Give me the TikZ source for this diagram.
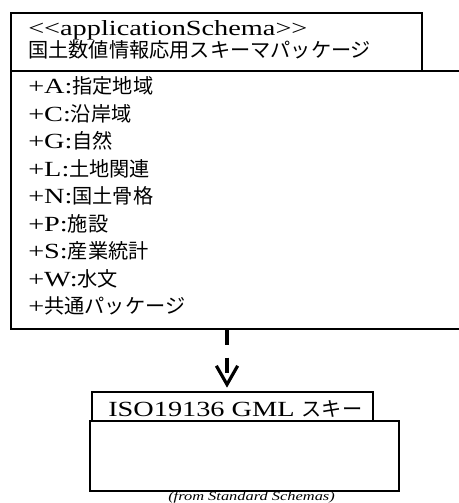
\documentclass[tikz,border=0pt]{standalone}
\usepackage{fontspec}
\setmainfont[FakeStretch=1.31]{Liberation Serif}
\newfontfamily\jp[Scale=0.935]{Noto Sans CJK JP}
\usetikzlibrary{arrows.meta}
\begin{document}
\begin{tikzpicture}[x=0.75pt,y=-0.75pt,
  box/.style={draw, line width=1.2pt, rectangle, inner sep=0pt, anchor=north west},
  txt/.style={inner sep=0pt, anchor=base west, font=\fontsize{16.2}{18}\selectfont},
  fromtxt/.style={inner sep=0pt, anchor=base west, font=\fontsize{9.4}{11}\selectfont\itshape},
  dep/.style={line width=2.6pt, dash pattern=on 11.25pt off 9.75pt,
    -{Straight Barb[length=14pt,width=16pt,line width=2.4pt]}, shorten >=2.5pt}
]
\useasboundingbox (0,0) rectangle (459,503);
\clip (0,0) rectangle (459,503);
\fill[white] (0,0) rectangle (459,503);
% top package
\node[box, minimum width=308.25pt, minimum height=43.5pt] (toptab) at (10,12) {};
\node[box, minimum width=345pt, minimum height=193.5pt] (topbody) at (10,70) {};
\node[txt] (stereo) at (28,36) {<\kern0pt<applicationSchema>\kern0pt>};
\node[txt] (pkgname) at (28,58) {\jp 国土数値情報応用スキーマパッケージ};
\node[txt] (ra) at (28,93.5) {+A:{\jp 指定地域}};
\node[txt] (rc) at (28,121) {+C:{\jp 沿岸域}};
\node[txt] (rg) at (28,148.5) {+G:{\jp 自然}};
\node[txt] (rl) at (28,176) {+L:{\jp 土地関連}};
\node[txt] (rn) at (28,203.5) {+N:{\jp 国土骨格}};
\node[txt] (rp) at (28,231) {+P:{\jp 施設}};
\node[txt] (rs) at (28,258.5) {+S:{\jp 産業統計}};
\node[txt] (rw) at (28,286) {+W:{\jp 水文}};
\node[txt] (rk) at (28,313.5) {+{\jp 共通パッケージ}};
% bottom package
\node[box, minimum width=210.75pt, minimum height=21.75pt] (bottab) at (91,391) {};
\node[box, minimum width=231.75pt, minimum height=52.5pt] (botbody) at (89,420) {};
\node[txt] (iso) at (108,416) {ISO19136 GML {\jp スキー}};
\node[fromtxt] (from) at (168,500) {(from Standard Schemas)};
% dependency
\coordinate (arrx) at (227,0);
\draw[dep] (topbody.south -| arrx) -- (bottab.north -| arrx);
\end{tikzpicture}
\end{document}
